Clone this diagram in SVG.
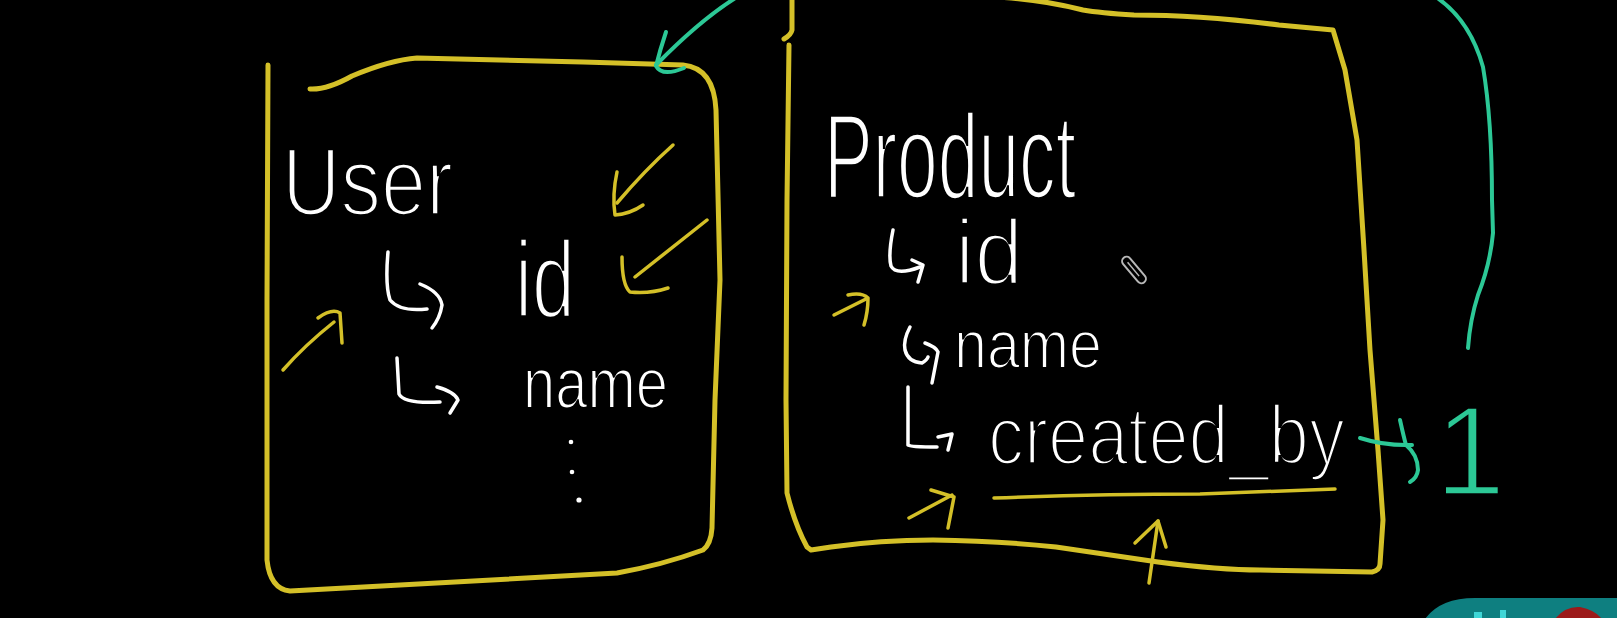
<svg xmlns="http://www.w3.org/2000/svg" width="1617" height="618" viewBox="0 0 1617 618">
  <style>
    .box { fill: none; stroke: #d4c028; stroke-width: 5; stroke-linecap: round; stroke-linejoin: round; }
    .ya { fill: none; stroke: #d4c028; stroke-width: 3.5; stroke-linecap: round; stroke-linejoin: round; }
    .ga { fill: none; stroke: #2cc896; stroke-width: 4; stroke-linecap: round; stroke-linejoin: round; }
    .hook { fill: none; stroke: #ffffff; stroke-width: 3.5; stroke-linecap: round; stroke-linejoin: round; }
    .hw { font-family: "Liberation Sans", Arial, sans-serif; fill: #ffffff; stroke: #000000; stroke-width: 3.5; }
    .dot { fill: #ffffff; }
  </style>
  <rect x="0" y="0" width="1617" height="618" fill="#000000"/>

  <g id="user">
    <path class="box" d="M268,65 L267,300 L267,560 Q270,589 290,591 L617,573 Q662,565 703,550 Q711,544 712,528 L715,400 L720,280 L716,110 Q714,68 683,65 L583,62 L417,58 Q390,60 352,76 Q327,90 310,89"/>
    <text class="hw" x="282" y="215" font-size="96" textLength="171" lengthAdjust="spacingAndGlyphs">User</text>
    <path class="hook" d="M388,252 Q385,285 390,300 Q400,312 427,309"/>
    <path class="hook" d="M420,284 Q440,292 442,305 Q440,318 432,328"/>
    <text class="hw" x="515" y="317" font-size="110" textLength="60" lengthAdjust="spacingAndGlyphs">id</text>
    <path class="hook" d="M397,358 L399,394 Q404,404 440,402"/>
    <path class="hook" d="M437,387 Q455,392 458,400 L450,413"/>
    <text class="hw" x="523" y="408" font-size="72" textLength="145" lengthAdjust="spacingAndGlyphs" style="stroke-width:2.2">name</text>
    <circle class="dot" cx="571" cy="442" r="2.3"/>
    <circle class="dot" cx="572" cy="472" r="2.3"/>
    <circle class="dot" cx="579" cy="500" r="2.6"/>
  </g>

  <g id="product">
    <path class="box" d="M792,-3 L792,30 Q791,35 784,39"/>
    <path class="box" d="M789,45 L787,200 L786,400 L787,493 Q795,525 807,547 L811,550 L831,547 Q880,540 933,540 Q1000,541 1056,547 L1158,562 Q1220,570 1260,570 L1372,572 Q1380,570 1380,564 L1383,520 L1378,450 L1370,350 L1364,250 L1357,140 L1345,70 L1333,30 L1279,25 Q1200,15 1134,15 Q1100,13 1083,10 Q1040,-1 995,-3"/>
    <text class="hw" x="824" y="198" font-size="120" textLength="252" lengthAdjust="spacingAndGlyphs">Product</text>
    <path class="hook" d="M893,230 Q888,255 891,266 Q896,276 920,267"/>
    <path class="hook" d="M912,260 L923,265 L918,282"/>
    <text class="hw" x="955" y="284" font-size="92" textLength="68" lengthAdjust="spacingAndGlyphs">id</text>
    <path class="hook" d="M910,327 Q903,340 905,350 Q908,362 922,363 Q927,360 928,357"/>
    <path class="hook" d="M925,343 Q936,347 938,352 L932,383"/>
    <text class="hw" x="954" y="368" font-size="68" textLength="148" lengthAdjust="spacingAndGlyphs" style="stroke-width:2.2">name</text>
    <path class="hook" d="M908,387 L908,445 Q910,447 937,447"/>
    <path class="hook" d="M938,437 L952,434 L948,450"/>
    <text class="hw" x="988" y="464" font-size="84" textLength="357" lengthAdjust="spacingAndGlyphs">created_by</text>
    <path class="ya" d="M994,498 Q1100,494 1200,494 L1335,489"/>
  </g>

  <g id="one">
    <text x="1470" y="495" font-family="Liberation Sans, Arial, sans-serif" font-size="128" fill="#2cc896" stroke="#000" stroke-width="3.5" text-anchor="middle">1</text>
  </g>

  <g id="connectors">
    <path class="ga" d="M1436,-3 Q1470,20 1483,67 Q1492,120 1492,200 L1493,233 Q1490,265 1478,295 Q1470,320 1468,348"/>
    <path class="ga" d="M737,-3 Q700,20 656,65"/>
    <path class="ga" d="M666,32 Q660,50 656,66 Q662,77 684,68"/>
    <path class="ga" d="M1360,438 Q1385,446 1412,445"/>
    <path class="ga" d="M1400,420 Q1404,438 1406,445 Q1418,455 1418,470 Q1417,478 1410,482"/>
    <path class="ya" d="M673,145 Q645,170 617,203"/>
    <path class="ya" d="M617,172 Q612,195 615,215 Q630,214 643,205"/>
    <path class="ya" d="M707,220 L635,277"/>
    <path class="ya" d="M622,257 Q622,285 630,292 Q650,294 668,288"/>
    <path class="ya" d="M283,370 Q305,345 334,322"/>
    <path class="ya" d="M318,318 Q332,308 340,313 L342,343"/>
    <path class="ya" d="M834,315 L866,299"/>
    <path class="ya" d="M848,295 Q862,292 868,298 Q868,312 864,325"/>
    <path class="ya" d="M909,518 L952,495"/>
    <path class="ya" d="M931,490 L954,497 L948,528"/>
    <path class="ya" d="M1149,583 L1158,521"/>
    <path class="ya" d="M1135,543 L1158,521 L1166,547"/>
  </g>

  <g id="overlay">
    <g transform="translate(1134,270) rotate(50)">
      <rect x="-16" y="-4.5" width="32" height="9" rx="4.5" fill="none" stroke="#b8b8b8" stroke-width="2"/>
      <line x1="-10" y1="0" x2="8" y2="0" stroke="#b8b8b8" stroke-width="1.5"/>
    </g>
    <path d="M1425,619 Q1440,598 1475,598 L1618,598 L1618,619 Z" fill="#0e7f80"/>
    <rect x="1474" y="612" width="8" height="6" fill="#3fd6d6"/>
    <rect x="1500" y="610" width="6" height="8" fill="#3fd6d6"/>
    <path d="M1555,619 Q1565,606 1580,607 Q1595,610 1602,619 Z" fill="#9c1a1a"/>
  </g>
</svg>
